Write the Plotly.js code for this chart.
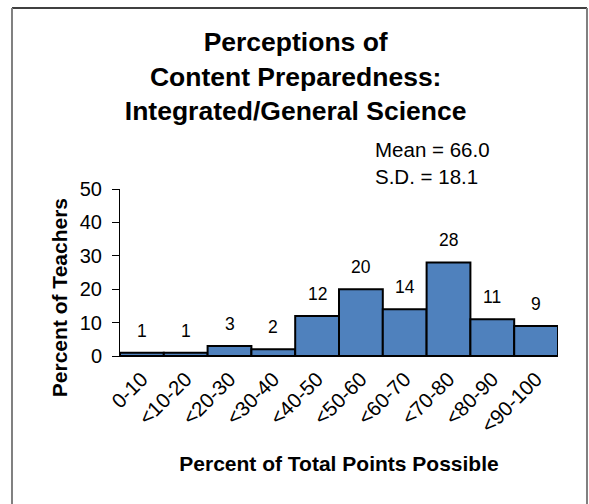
<!DOCTYPE html>
<html>
<head>
<meta charset="utf-8">
<script src="https://cdn.plot.ly/plotly-3.0.1.min.js"></script>
<style>
html, body { margin: 0; padding: 0; background: #fff; }
#chart { width: 589px; height: 504px; }
</style>
</head>
<body>
<div id="chart"></div>
<script>
const categories = ["0-10", "<10-20", "<20-30", "<30-40", "<40-50", "<50-60", "<60-70", "<70-80", "<80-90", "<90-100"];
const percentTeachers = [1, 1, 3, 2, 12, 20, 14, 28, 11, 9];
const yTickValues = [0, 10, 20, 30, 40, 50];
const titleLines = ["Perceptions of", "Content Preparedness:", "Integrated/General Science"];
const statsLines = ["Mean = 66.0", "S.D. = 18.1"];
const xTitle = "Percent of Total Points Possible";
const yTitle = "Percent of Teachers";

const FONT = "Arial, 'Liberation Sans', sans-serif";

const trace = {
  type: "bar",
  x: categories,
  y: percentTeachers,
  marker: { color: "#4F81BD", line: { color: "#000000", width: 2 } },
  hoverinfo: "x+y"
};

const valueLabels = categories.map((c, i) => ({
  x: c, y: percentTeachers[i], xref: "x", yref: "y",
  text: String(percentTeachers[i]),
  showarrow: false, yanchor: "bottom", yshift: 10,
  font: { family: FONT, size: 17.5, color: "#000" }
}));

const frameTop = 2.084, frameBottom = -1.2, frameLeft = -0.2466, frameRight = 1.0662;

const layout = {
  width: 589, height: 504,
  margin: { l: 120, r: 31, t: 189, b: 148 },
  paper_bgcolor: "#fff", plot_bgcolor: "#fff",
  font: { family: FONT, color: "#000" },
  bargap: 0,
  showlegend: false,
  title: {
    text: titleLines.join("<br>"),
    font: { family: FONT, size: 26.5, color: "#000", weight: "bold" },
    xref: "container", x: 0.502, xanchor: "center",
    yref: "container", y: 0.898, yanchor: "top"
  },
  xaxis: {
    type: "category",
    tickangle: -45,
    tickfont: { family: FONT, size: 20.5, color: "#000" },
    ticklabelstandoff: 2,
    showline: true, linecolor: "#000", linewidth: 1,
    ticks: "", showgrid: false, zeroline: false,
    fixedrange: true,
    title: { text: xTitle, font: { family: FONT, size: 21, weight: "bold", color: "#000" }, standoff: 20 }
  },
  yaxis: {
    range: [0, 50],
    tickvals: yTickValues,
    ticks: "outside", ticklen: 7, tickcolor: "#000", tickwidth: 1,
    tickfont: { family: FONT, size: 20, color: "#000" },
    ticklabelstandoff: 6,
    showline: true, linecolor: "#000", linewidth: 1,
    showgrid: false, zeroline: false,
    fixedrange: true
  },
  annotations: valueLabels.concat([
    {
      xref: "paper", yref: "paper", x: 0.578, y: 1.318,
      xanchor: "left", yanchor: "top", align: "left",
      text: statsLines.join("<br>"), showarrow: false,
      font: { family: FONT, size: 20.5, color: "#000" }
    },
    {
      xref: "paper", yref: "paper", x: -0.139, y: 0.347,
      xanchor: "center", yanchor: "middle", textangle: -90,
      text: yTitle, showarrow: false,
      font: { family: FONT, size: 21, weight: "bold", color: "#000" }
    }
  ]),
  shapes: [
    { type: "line", xref: "paper", yref: "paper", x0: frameLeft, x1: frameRight, y0: frameTop, y1: frameTop, line: { color: "#000", width: 1.5 } },
    { type: "line", xref: "paper", yref: "paper", x0: frameLeft, x1: frameLeft, y0: frameTop, y1: frameBottom, line: { color: "#808080", width: 2 } },
    { type: "line", xref: "paper", yref: "paper", x0: frameRight, x1: frameRight, y0: frameTop, y1: frameBottom, line: { color: "#808080", width: 2 } }
  ]
};

Plotly.newPlot("chart", [trace], layout, { displayModeBar: false, staticPlot: true });
</script>
</body>
</html>
